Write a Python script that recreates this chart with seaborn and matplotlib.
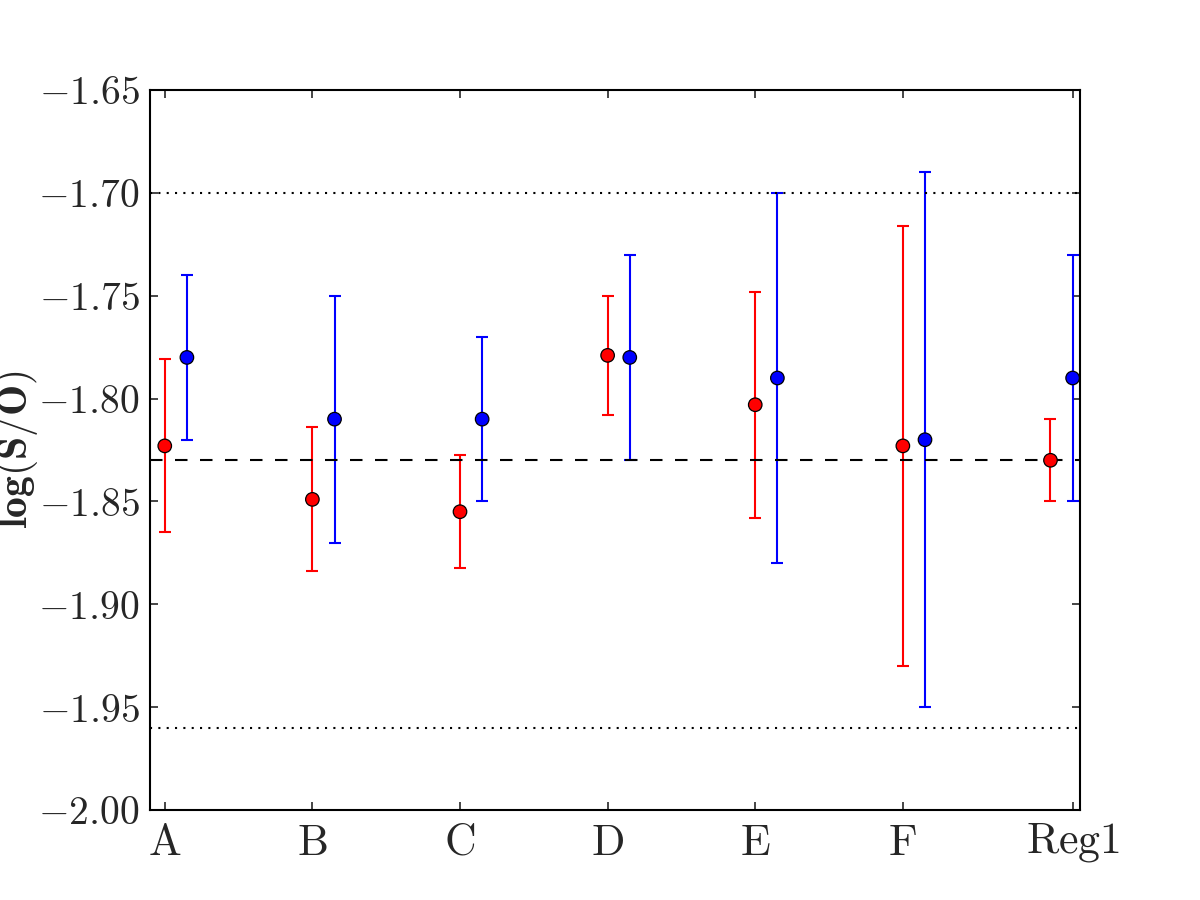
import numpy as np
import pandas as pd
import seaborn as sns
from matplotlib import pyplot as plt

# data
labels = ["A", "B", "C", "D", "E", "F", "Reg1"]
red_val = [-1.823, -1.849, -1.855, -1.779, -1.803, -1.823, -1.830]
red_err = [0.042, 0.035, 0.0275, 0.029, 0.055, 0.107, 0.020]
blue_val = [-1.78, -1.81, -1.81, -1.78, -1.79, -1.82, -1.79]
blue_err = [0.04, 0.06, 0.04, 0.05, 0.09, 0.13, 0.06]
ref_mean = -1.83
ref_band = [-1.70, -1.96]
yticks = [-2.00, -1.95, -1.90, -1.85, -1.80, -1.75, -1.70, -1.65]

sns.set_style("ticks")
plt.rcParams.update({
    "font.family": "serif",
    "mathtext.fontset": "cm",
    "xtick.direction": "in",
    "ytick.direction": "in",
    "xtick.top": True,
    "ytick.right": True,
    "xtick.major.size": 4,
    "ytick.major.size": 4,
    "axes.linewidth": 1.0,
    "axes.edgecolor": "black",
    "lines.scale_dashes": False,
})

x_red = np.arange(len(labels), dtype=float)
x_blue = x_red + 0.15
df = pd.DataFrame({
    "x": np.concatenate([x_red, x_blue]),
    "val": red_val + blue_val,
    "err": red_err + blue_err,
    "set": ["red"] * len(labels) + ["blue"] * len(labels),
})

fig, ax = plt.subplots(figsize=(8, 6), dpi=150)
fig.subplots_adjust(left=0.125, right=0.9, bottom=0.1, top=0.9)

for name, grp in df.groupby("set", sort=False):
    ax.errorbar(grp["x"], grp["val"], yerr=grp["err"], fmt="none",
                ecolor=name, elinewidth=1.0, capsize=3, capthick=1.0, zorder=2)

ax.axhline(ref_mean, color="black", linestyle=(0, (6, 6)), linewidth=1.0, zorder=2.5)
for v in ref_band:
    ax.axhline(v, color="black", linestyle=(0, (1, 3)), linewidth=1.0, zorder=2.5)

sns.scatterplot(data=df, x="x", y="val", hue="set",
                palette={"red": "red", "blue": "blue"}, s=42,
                edgecolor="black", linewidth=0.6, legend=False, zorder=3, ax=ax)

ax.set_xlim(-0.1, 6.2)
ax.set_ylim(-2.0, -1.65)
xtick_pos = list(x_red[:-1]) + [x_blue[-1]]
ax.set_xticks(xtick_pos)
ax.set_xticklabels([r"$\mathrm{%s}$" % l for l in labels], fontsize=21)
ax.set_yticks(yticks)
ax.set_yticklabels([r"$%.2f$" % v for v in yticks], fontsize=19)
ax.tick_params(axis="x", pad=5)
ax.tick_params(axis="y", pad=5)
ax.set_xlabel("")
ax.set_ylabel(r"$\mathbf{log(S/O)}$", fontsize=20)
ax.yaxis.set_label_coords(-0.118, 0.5)

plt.savefig("out.png")
plt.close()
